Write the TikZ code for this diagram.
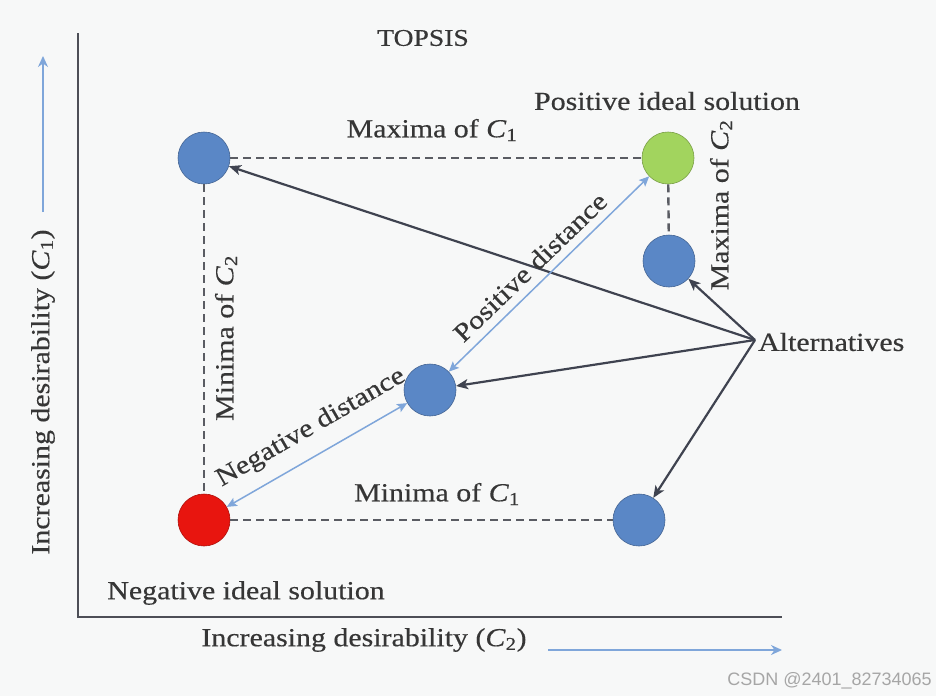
\documentclass[tikz,border=0pt]{standalone}
\usepackage{fontspec}
\setmainfont{Liberation Serif}[FakeStretch=1.15,FakeBold=0.4]
\newfontfamily\wmfont{Liberation Sans}
\usetikzlibrary{arrows.meta}
\definecolor{bg}{HTML}{F7F8F8}
\definecolor{cblue}{HTML}{5A87C6}
\definecolor{cgreen}{HTML}{A2D45E}
\definecolor{cred}{HTML}{E8150F}
\definecolor{axisgray}{HTML}{4D4F57}
\definecolor{dashgray}{HTML}{5A5C63}
\definecolor{lblue}{HTML}{7FA6DA}
\definecolor{arrowdark}{HTML}{3F4350}
\definecolor{txt}{HTML}{363636}
\begin{document}
\begin{tikzpicture}[x=1pt,y=-1pt,
  dot/.style={circle,minimum size=52pt,inner sep=0pt,fill=#1,draw=#1!75!black,line width=0.6pt},
  lbl/.style={text=txt,font=\fontsize{26}{30}\selectfont,inner sep=0pt},
  axisline/.style={draw=axisgray,line width=2.8pt},
  axisarrow/.style={draw=lblue,line width=1.8pt,-{Stealth[length=11pt,width=10pt]}},
  dsh/.style={draw=dashgray,line width=2.4pt,dash pattern=on 8pt off 5pt},
  darr/.style={draw=arrowdark,line width=2.2pt,-{Stealth[length=12pt,width=10pt,inset=3pt]}},
  barr/.style={draw=lblue,line width=1.5pt,{Stealth[length=10pt,width=9pt,inset=2pt]}-{Stealth[length=10pt,width=9pt,inset=2pt]}}
]
\fill[bg] (0,0) rectangle (936,696);
\useasboundingbox (0,0) rectangle (936,696);
% axes
\coordinate (ytop) at (78,33);
\coordinate (orig) at (78,617);
\coordinate (xend) at (782,617);
\draw[axisline] (ytop) -- (orig) -- (xend);
\coordinate (ya1) at (43,212);
\coordinate (ya2) at (43,56);
\draw[axisarrow] (ya1) -- (ya2);
\coordinate (xa1) at (548,650);
\coordinate (xa2) at (782,650);
\draw[axisarrow] (xa1) -- (xa2);
\node[lbl,rotate=90] (ylbl) at (43,392) {Increasing desirability (\textit{C}\textsubscript{1})};
\node[lbl] (xlbl) at (364,640) {Increasing desirability (\textit{C}\textsubscript{2})};
% points
\node[dot=cblue] (a) at (204,158) {};
\node[dot=cgreen] (g) at (668,158) {};
\node[dot=cblue] (rb) at (669,261) {};
\node[dot=cblue] (m) at (430,390) {};
\node[dot=cred] (r) at (204,520) {};
\node[dot=cblue] (br) at (639,520) {};
\coordinate (alt) at (755,340);
\node[lbl,anchor=west] (altlbl) at (758,342) {Alternatives};
% dashed
\draw[dsh] (a) -- (g);
\draw[dsh] (a) -- (r);
\draw[dsh] (r) -- (br);
\draw[dsh] (g) -- (rb);
% alternative arrows
\draw[darr] (alt) -- (a);
\draw[darr] (alt) -- (rb);
\draw[darr] (alt) -- (m);
\draw[darr] (alt) -- (br);
% distance arrows
\draw[barr] (m) -- (g);
\draw[barr] (r) -- (m);
% labels
\node[lbl,font=\fontsize{24}{28}\selectfont] (title) at (423,38) {TOPSIS};
\node[lbl] (pis) at (667,101) {Positive ideal solution};
\node[lbl] (maxc1) at (432,130) {Maxima of \textit{C}\textsubscript{1}};
\node[lbl,rotate=90] (maxc2) at (721,205) {Maxima of \textit{C}\textsubscript{2}};
\node[lbl,rotate=90] (minc2) at (226,338) {Minima of \textit{C}\textsubscript{2}};
\node[lbl,rotate=44] (pd) at (530,267) {Positive distance};
\node[lbl,rotate=30] (nd) at (311,428) {Negative distance};
\node[lbl] (minc1) at (437,494) {Minima of \textit{C}\textsubscript{1}};
\node[lbl] (nis) at (246,593) {Negative ideal solution};
\node[text=black!35,font=\wmfont\fontsize{18}{20}\selectfont,anchor=east,inner sep=0pt] (wm) at (932,681) {CSDN @2401\_82734065};
\end{tikzpicture}
\end{document}
